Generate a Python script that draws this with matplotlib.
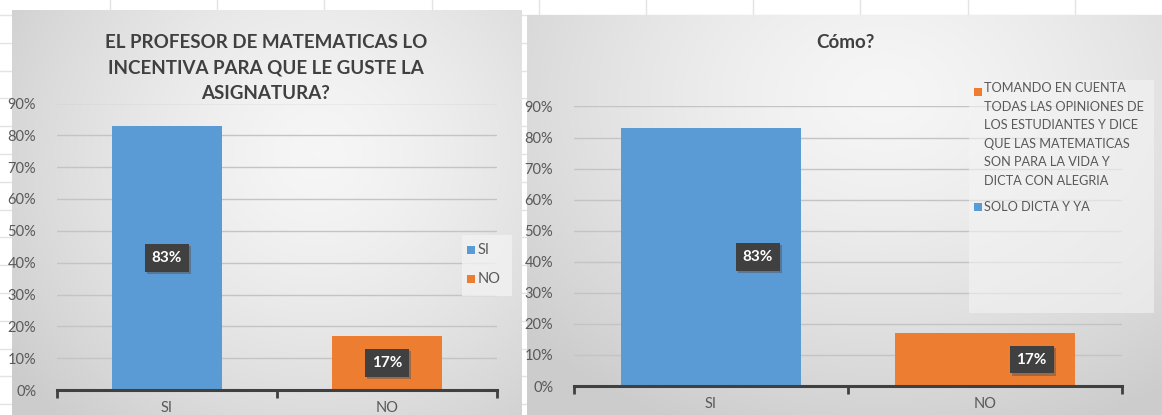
import numpy as np
import matplotlib
matplotlib.use("Agg")
import matplotlib.pyplot as plt
from matplotlib.patches import Rectangle
import matplotlib.patheffects as pe

# --- DATOS ---
categorias = ["SI", "NO"]
porcentajes = [0.83, 0.17]
etiquetas = ["83%", "17%"]
colores = ["#5B9BD5", "#ED7D31"]

titulo_1 = "EL PROFESOR DE MATEMATICAS LO\nINCENTIVA PARA QUE LE GUSTE LA\nASIGNATURA?"
titulo_2 = "Cómo?"
leyenda_1 = ["SI", "NO"]
leyenda_2 = ["TOMANDO EN CUENTA\nTODAS LAS OPINIONES DE\nLOS ESTUDIANTES Y DICE\nQUE LAS MATEMATICAS\nSON PARA LA VIDA Y\nDICTA CON ALEGRIA",
             "SOLO DICTA Y YA"]
colores_leyenda_2 = ["#ED7D31", "#5B9BD5"]
y_ticks = np.arange(0, 0.91, 0.1)

W, H = 1162, 415
plt.rcParams["font.family"] = ["Lato", "DejaVu Sans"]


def caja(x0, y0, x1, y1):
    # pixeles (origen arriba a la izquierda) -> fracciones de figura
    return [x0 / W, 1 - y1 / H, (x1 - x0) / W, (y1 - y0) / H]


def fx(x):
    return x / W


def fy(y):
    return 1 - y / H


fig = plt.figure(figsize=(W / 100, H / 100), dpi=100)
fig.patch.set_facecolor("white")

# --- Fondo de hoja de calculo ---
hoja = fig.add_axes([0, 0, 1, 1])
hoja.set_xlim(0, W)
hoja.set_ylim(H, 0)
hoja.axis("off")
for xc in np.arange(110, W, 107.2):
    hoja.axvline(xc, color="#e3e3e3", lw=1)
for yr in np.arange(15, H, 27.8):
    hoja.axhline(yr, color="#e3e3e3", lw=1)


def fondo(x0, y0, x1, y1, cx, cy):
    ax = fig.add_axes(caja(x0, y0, x1, y1))
    ax.axis("off")
    gx, gy = np.meshgrid(np.linspace(0, 1, 300), np.linspace(0, 1, 200))
    r = np.sqrt(((gx - cx) / 0.75) ** 2 + ((gy - cy) / 0.9) ** 2)
    r = np.clip(r, 0, 1) ** 1.4
    claro, oscuro = 0.965, 0.80
    img = claro + (oscuro - claro) * r
    ax.imshow(np.dstack([img, img, img]), aspect="auto", extent=(0, 1, 1, 0))
    ax.set_xlim(0, 1)
    ax.set_ylim(1, 0)
    return ax


fondo(12, 10, 522, 420, 0.6, 0.35)
fondo(527, 15, 1175, 420, 0.55, 0.2)


def grafico(rect, ancho_barra, desplaz_etiqueta):
    ax = fig.add_axes(rect)
    ax.patch.set_alpha(0)
    x = np.arange(len(categorias))
    ax.bar(x, porcentajes, width=ancho_barra, color=colores, zorder=2)
    ax.set_xlim(-0.5, len(categorias) - 0.5)
    ax.set_ylim(0, 0.9)
    ax.set_yticks(y_ticks)
    ax.set_yticklabels([f"{v * 100:.0f}%" for v in y_ticks])
    ax.grid(axis="y", color="#c4c4c4", lw=1, zorder=0)
    ax.set_xticks(x)
    ax.set_xticklabels(categorias)
    ax.set_xticks(np.arange(-0.5, len(categorias)), minor=True)
    ax.tick_params(axis="x", which="major", length=0, pad=8, labelsize=10.5, labelcolor="#595959")
    ax.tick_params(axis="x", which="minor", length=6, width=2, color="#404040", direction="out")
    ax.tick_params(axis="y", length=0, pad=15, labelsize=10.5, labelcolor="#595959")
    for lado in ["top", "right", "left"]:
        ax.spines[lado].set_visible(False)
    ax.spines["bottom"].set_color("#404040")
    ax.spines["bottom"].set_linewidth(2.2)
    ax.spines["bottom"].set_zorder(3)
    for xi, v, et in zip(x, porcentajes, etiquetas):
        t = ax.text(xi + desplaz_etiqueta, v / 2, et, ha="center", va="center",
                    color="white", fontsize=11, fontweight="bold", zorder=4,
                    bbox=dict(boxstyle="square,pad=0.45", fc="#404040", ec="none"))
        t.get_bbox_patch().set_path_effects(
            [pe.SimplePatchShadow(offset=(1.5, -1.5), shadow_rgbFace="#555555", alpha=0.5), pe.Normal()])
    return ax


grafico(caja(57, 103.5, 497, 390), 0.5, 0.0)
grafico(caja(574, 106.5, 1122, 386), 0.66, 0.17)

# --- Titulos ---
fig.text(fx(266), fy(68), titulo_1, ha="center", va="center", fontsize=13.5,
         fontweight="bold", color="#404040", linespacing=1.62)
fig.text(fx(845), fy(43), titulo_2, ha="center", va="center", fontsize=13.5,
         fontweight="bold", color="#404040")

# --- Leyenda izquierda ---
fig.patches.append(Rectangle((fx(462), fy(296)), 50 / W, 61 / H, transform=fig.transFigure,
                             fc="#f2f2f2", ec="none", alpha=0.8))
for i, (txt, col) in enumerate(zip(leyenda_1, colores)):
    yc = 250 + i * 29
    fig.patches.append(Rectangle((fx(467), fy(yc + 4)), 8 / W, 8 / H,
                                 transform=fig.transFigure, fc=col, ec="none"))
    fig.text(fx(478), fy(yc), txt, ha="left", va="center", fontsize=10.5, color="#595959")

# --- Leyenda derecha ---
fig.patches.append(Rectangle((fx(969), fy(313)), 185 / W, 233 / H, transform=fig.transFigure,
                             fc="#f4f4f4", ec="none", alpha=0.6))
fig.patches.append(Rectangle((fx(974), fy(96)), 8 / W, 8 / H,
                             transform=fig.transFigure, fc=colores_leyenda_2[0], ec="none"))
fig.text(fx(984), fy(82), leyenda_2[0], ha="left", va="top", fontsize=9.2,
         color="#595959", linespacing=1.66)
fig.patches.append(Rectangle((fx(974), fy(211)), 8 / W, 8 / H,
                             transform=fig.transFigure, fc=colores_leyenda_2[1], ec="none"))
fig.text(fx(984), fy(207), leyenda_2[1], ha="left", va="center", fontsize=9.2, color="#595959")

fig.savefig("out.png", dpi=100)
